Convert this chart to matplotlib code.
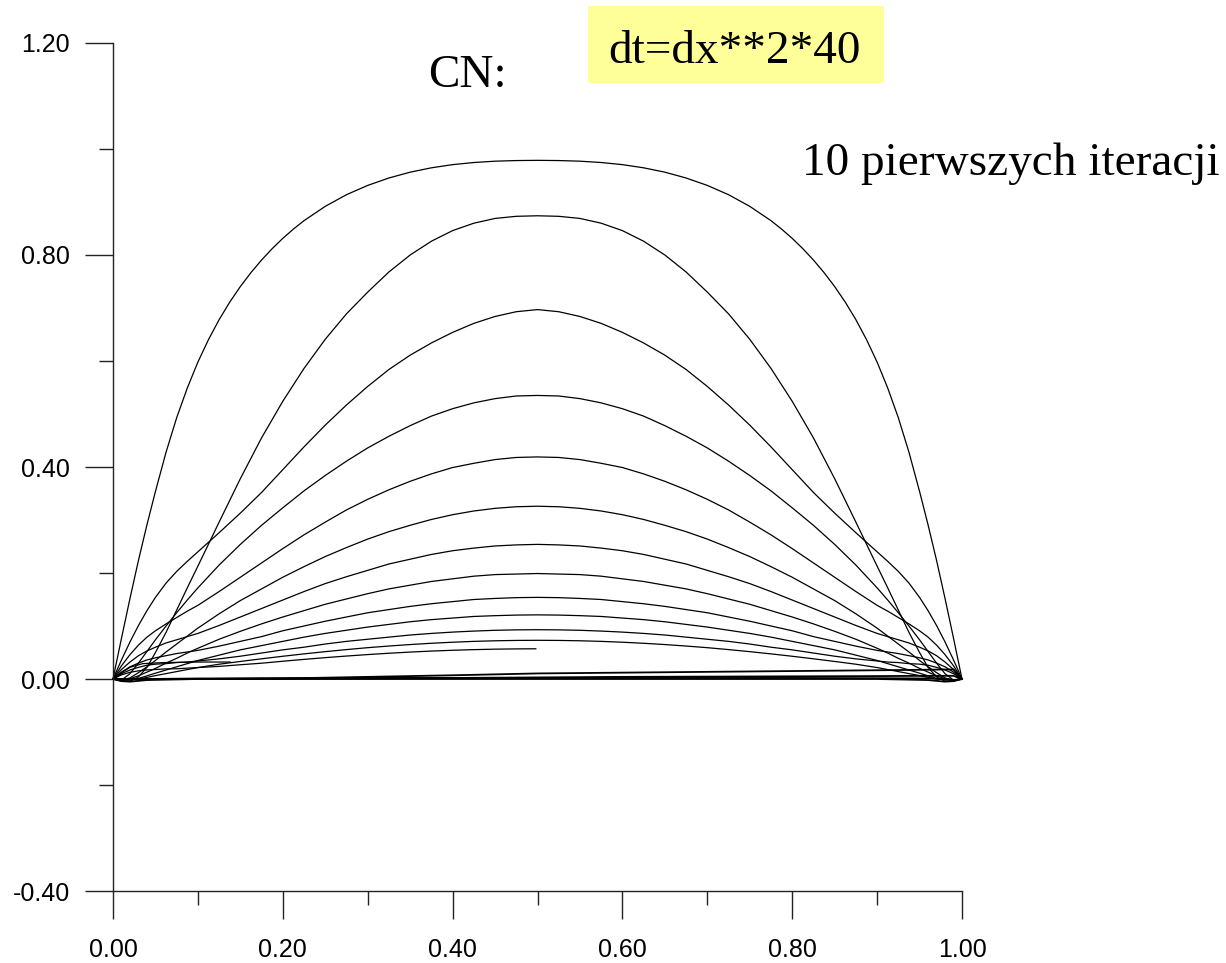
import numpy as np
import matplotlib
matplotlib.use("Agg")
import matplotlib.pyplot as plt
from matplotlib.patches import Rectangle
from matplotlib.ticker import MultipleLocator, FormatStrFormatter

# ---- data (left half of the symmetric profiles) ----
top_x_half = [0, 0.01, 0.02, 0.03, 0.04, 0.05, 0.0625, 0.075, 0.0875, 0.1, 0.1125,
              0.125, 0.1375, 0.15, 0.1625, 0.175, 0.1875, 0.2, 0.2125, 0.225, 0.25,
              0.275, 0.3, 0.325, 0.35, 0.375, 0.4, 0.425, 0.45, 0.475, 0.5]
curve_01 = [0, 0.077, 0.152, 0.224, 0.291, 0.354, 0.428, 0.493, 0.549, 0.598, 0.6405,
            0.678, 0.7111, 0.7405, 0.7668, 0.7905, 0.812, 0.8314, 0.8489, 0.8648, 0.8918,
            0.9138, 0.9313, 0.9453, 0.9563, 0.9645, 0.9705, 0.9745, 0.977, 0.9782, 0.9786]

x_half = [0, 0.01, 0.02, 0.03, 0.04, 0.05, 0.0625, 0.075, 0.0875, 0.1, 0.125,
          0.15, 0.175, 0.2, 0.225, 0.25, 0.275, 0.3, 0.325, 0.35, 0.375, 0.4,
          0.425, 0.45, 0.475, 0.5]

curve_02 = [0, -0.004, -0.004, 0.004, 0.022, 0.05, 0.088, 0.13, 0.172, 0.213, 0.296,
            0.378, 0.455, 0.524, 0.586, 0.641, 0.689, 0.730, 0.768, 0.800, 0.826,
            0.846, 0.86, 0.869, 0.873, 0.874]
curve_03 = [0, 0.036, 0.07, 0.101, 0.129, 0.154, 0.181, 0.203, 0.222, 0.24, 0.276,
            0.313, 0.352, 0.395, 0.438, 0.479, 0.517, 0.552, 0.584, 0.611, 0.634,
            0.654, 0.671, 0.684, 0.693, 0.697]
curve_04 = [0, -0.002, 0.01, 0.03, 0.052, 0.074, 0.1, 0.125, 0.149, 0.172, 0.215,
            0.254, 0.29, 0.323, 0.355, 0.384, 0.411, 0.436, 0.458, 0.478, 0.496,
            0.51, 0.521, 0.529, 0.534, 0.535]
curve_05 = [0, 0.025, 0.046, 0.064, 0.079, 0.091, 0.104, 0.116, 0.128, 0.139, 0.165,
            0.192, 0.219, 0.246, 0.272, 0.296, 0.319, 0.339, 0.357, 0.373, 0.387,
            0.399, 0.407, 0.414, 0.418, 0.419]
curve_06 = [0, -0.002, 0.002, 0.012, 0.023, 0.035, 0.051, 0.066, 0.081, 0.096, 0.123,
            0.148, 0.170, 0.192, 0.212, 0.231, 0.248, 0.264, 0.278, 0.29, 0.301,
            0.31, 0.317, 0.322, 0.325, 0.326]
curve_07 = [0, 0.018, 0.032, 0.044, 0.053, 0.06, 0.068, 0.074, 0.08, 0.086, 0.101,
            0.117, 0.133, 0.149, 0.165, 0.18, 0.193, 0.205, 0.217, 0.226, 0.235,
            0.242, 0.247, 0.251, 0.253, 0.254]
curve_08 = [0, -0.002, 0.0005, 0.006, 0.013, 0.02, 0.03, 0.039, 0.049, 0.058, 0.075,
            0.09, 0.104, 0.117, 0.129, 0.141, 0.151, 0.161, 0.17, 0.177, 0.184,
            0.189, 0.194, 0.197, 0.198, 0.199]
curve_09 = [0, 0.013, 0.023, 0.03, 0.036, 0.04, 0.044, 0.048, 0.051, 0.054, 0.062,
            0.071, 0.08, 0.091, 0.1, 0.109, 0.117, 0.125, 0.131, 0.137, 0.142,
            0.146, 0.15, 0.152, 0.1535, 0.154]
curve_10 = [0, -0.002, -0.001, 0.001, 0.006, 0.011, 0.017, 0.023, 0.029, 0.035, 0.045,
            0.055, 0.063, 0.071, 0.079, 0.086, 0.092, 0.098, 0.103, 0.108, 0.112,
            0.115, 0.118, 0.1195, 0.1206, 0.121]
curve_11 = [0, 0.01, 0.017, 0.022, 0.026, 0.028, 0.029, 0.031, 0.032, 0.034, 0.038,
            0.043, 0.049, 0.055, 0.06, 0.066, 0.071, 0.075, 0.079, 0.083, 0.086,
            0.0885, 0.0904, 0.0919, 0.0927, 0.093]
curve_12 = [0, -0.0017, -0.0014, -0.0001, 0.003, 0.0064, 0.0102, 0.014, 0.0178, 0.0216,
            0.0279, 0.0331, 0.0381, 0.0429, 0.0474, 0.0516, 0.0555, 0.0591, 0.0622,
            0.065, 0.0674, 0.0694, 0.071, 0.0721, 0.0728, 0.073]

symmetric_curves = [curve_02, curve_03, curve_04, curve_05, curve_06, curve_07,
                    curve_08, curve_09, curve_10, curve_11, curve_12]

# curve drawn only on the left half (ends at x = 0.498)
curve_13_x = [0, 0.01, 0.02, 0.03, 0.04, 0.05, 0.0625, 0.075, 0.0875, 0.1, 0.125,
              0.15, 0.175, 0.2, 0.225, 0.25, 0.275, 0.3, 0.325, 0.35, 0.375, 0.4,
              0.425, 0.45, 0.475, 0.498]
curve_13_y = [0, 0.0078, 0.0126, 0.0154, 0.0171, 0.0179, 0.0191, 0.0193, 0.0205, 0.0216,
              0.0238, 0.0269, 0.0298, 0.0335, 0.037, 0.0403, 0.0433, 0.0461, 0.0486,
              0.0508, 0.0527, 0.0542, 0.0554, 0.0563, 0.0568, 0.057]

# short fragment near the origin
frag_x = [0, 0.01, 0.02, 0.035, 0.06, 0.1, 0.138]
frag_y = [0, 0.012, 0.022, 0.029, 0.031, 0.032, 0.032]

# near-zero profiles
zero_x = [0, 0.01, 0.02, 0.04, 0.1, 0.2, 0.3, 0.4, 0.5, 0.6, 0.7, 0.8, 0.9, 0.96, 0.98, 0.99, 1.0]
zero_a = [0, -0.004, -0.005, -0.002, 0, 0, 0, 0, 0, 0, 0, 0, 0, -0.002, -0.005, -0.004, 0]
zero_b = [0, -0.002, -0.001, 0.0, 0.001, 0.0015, 0.002, 0.002, 0.002, 0.002, 0.002, 0.002,
          0.0015, 0.001, 0.0, -0.002, 0]
zero_c = [0, 0, 0, 0, 0.0, 0.001, 0.004, 0.007, 0.0105, 0.012, 0.0135, 0.015, 0.0165,
          0.0175, 0.018, 0.018, 0]
zero_d = [0, 0, 0, 0, 0, 0.0005, 0.001, 0.002, 0.003, 0.004, 0.0045, 0.005, 0.0055,
          0.006, 0.006, 0.006, 0]
zero_curves = [zero_a, zero_b, zero_c, zero_d]

x_ticks_major = [0.0, 0.2, 0.4, 0.6, 0.8, 1.0]
y_ticks_major = [-0.4, 0.0, 0.4, 0.8, 1.2]

title_left = "CN:"
title_box = "dt=dx**2*40"
note = "10 pierwszych iteracji"

# ---- figure ----
W, H = 1226, 963
fig = plt.figure(figsize=(W / 100, H / 100), dpi=100)
ax = fig.add_axes([113 / W, 72 / H, (962 - 113) / W, (891 - 43) / H])

lw = 0.9


def mirrored(xs, ys):
    xs = np.array(xs)
    ys = np.array(ys)
    return (np.concatenate([xs, 1 - xs[::-1][1:]]),
            np.concatenate([ys, ys[::-1][1:]]))


xf, yf = mirrored(top_x_half, curve_01)
ax.plot(xf, yf, color="black", lw=lw, clip_on=False)
for c in symmetric_curves:
    xf, yf = mirrored(x_half, c)
    ax.plot(xf, yf, color="black", lw=lw, clip_on=False)

ax.plot(curve_13_x, curve_13_y, color="black", lw=lw, clip_on=False)
ax.plot(frag_x, frag_y, color="black", lw=lw, clip_on=False)
for z in zero_curves:
    ax.plot(zero_x, z, color="black", lw=1.3, clip_on=False)

ax.set_xlim(0, 1.0)
ax.set_ylim(-0.4, 1.2)
for s in ["top", "right"]:
    ax.spines[s].set_visible(False)
for s in ["left", "bottom"]:
    ax.spines[s].set_linewidth(1.0)
    ax.spines[s].set_color("#222222")

ax.set_xticks(x_ticks_major)
ax.set_yticks(y_ticks_major)
ax.xaxis.set_minor_locator(MultipleLocator(0.1))
ax.yaxis.set_minor_locator(MultipleLocator(0.2))
ax.xaxis.set_major_formatter(FormatStrFormatter("%.2f"))
ax.yaxis.set_major_formatter(FormatStrFormatter("%.2f"))
ax.tick_params(which="major", length=20, width=1.0, color="#222222",
               labelsize=18, direction="out")
ax.tick_params(axis="x", which="major", pad=14)
ax.tick_params(axis="y", which="major", pad=11)
ax.tick_params(which="minor", length=10, width=1.0, color="#222222", direction="out")
for lab in ax.get_xticklabels() + ax.get_yticklabels():
    lab.set_fontfamily("Liberation Sans")

# ---- annotations ----
fig.patches.append(Rectangle((588 / W, 1 - 83 / H), (884 - 588) / W, (83 - 6) / H,
                             transform=fig.transFigure, facecolor="#FFFF99",
                             edgecolor="none", zorder=0))
serif = "Liberation Serif"
fig.text(428 / W, 1 - 87 / H, title_left, fontsize=34, family=serif,
         ha="left", va="baseline")
fig.text(608 / W, 1 - 63 / H, title_box, fontsize=34, family=serif,
         ha="left", va="baseline")
fig.text(802 / W, 1 - 175 / H, note, fontsize=34, family=serif,
         ha="left", va="baseline")

fig.savefig("out.png", dpi=100, facecolor="white")
